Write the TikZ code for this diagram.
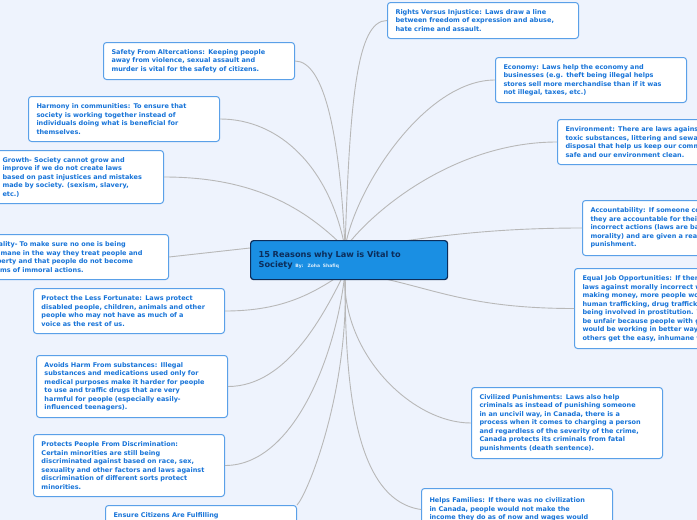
\documentclass[tikz,border=0pt]{standalone}
\usepackage{fontspec}
\setmainfont{DejaVu Sans}
\definecolor{bg}{HTML}{EEF3FD}
\definecolor{bd}{HTML}{5AA0E8}
\definecolor{tx}{HTML}{1673D8}
\definecolor{ln}{HTML}{B8B8B8}
\definecolor{cfill}{HTML}{1A8FE3}
\definecolor{cbd}{HTML}{0C2D5A}
\tikzset{
 bx/.style={draw=bd,line width=1pt,fill=white,rounded corners=3pt,anchor=north west,align=left,text=tx,font=\fontsize{6.5}{8.5}\selectfont\bfseries,inner xsep=8pt,inner ysep=3pt},
 con/.style={draw=ln,line width=0.9pt}
}
\newcommand\bxx[6]{\node[bx,minimum width=#4-#2,minimum height=#5-#3,text width=#4-#2-16] (#1) at (#2,#3) {#6};}
\begin{document}
\begin{tikzpicture}[x=1pt,y=-1pt]
\useasboundingbox (0,0) rectangle (697,520);
\clip (0,0) rectangle (697,520);
\fill[bg] (0,0) rectangle (697,520);
\coordinate (ht) at (345,248);
\coordinate (hb) at (345,272);
\bxx{rights}{387}{2}{578}{38}{Rights Versus Injustice: Laws draw a line\\between freedom of expression and abuse,\\hate crime and assault.}
\bxx{safety}{103}{42}{294}{79}{Safety From Altercations: Keeping people\\away from violence, sexual assault and\\murder is vital for the safety of citizens.}
\bxx{economy}{495}{57}{686}{102}{Economy: Laws help the economy and\\businesses (e.g. theft being illegal helps\\stores sell more merchandise than if it was\\not illegal, taxes, etc.)}
\bxx{harmony}{28}{96}{219}{141}{Harmony in communities: To ensure that\\society is working together instead of\\individuals doing what is beneficial for\\themselves.}
\bxx{env}{557}{119}{748}{164}{Environment: There are laws against\\toxic substances, littering and sewage\\disposal that help us keep our communities\\safe and our environment clean.}
\bxx{growth}{-6}{150}{163}{203}{Growth- Society cannot grow and\\improve if we do not create laws\\based on past injustices and mistakes\\made by society. (sexism, slavery,\\etc.)}
\bxx{acc}{582}{200}{773}{255}{Accountability: If someone commits a crime\\they are accountable for their\\incorrect actions (laws are based on\\morality) and are given a reasonable\\punishment.}
\bxx{moral}{-24}{234}{168}{279}{Morality- To make sure no one is being\\inhumane in the way they treat people and\\property and that people do not become\\victims of immoral actions.}
\bxx{equal}{574}{268}{765}{348}{Equal Job Opportunities: If there were no\\laws against morally incorrect ways of\\making money, more people would turn to\\human trafficking, drug trafficking and\\being involved in prostitution. This would\\be unfair because people with good morals\\would be working in better ways while\\others get the easy, inhumane way.}
\bxx{less}{33}{288}{224}{333}{Protect the Less Fortunate: Laws protect\\disabled people, children, animals and other\\people who may not have as much of a\\voice as the rest of us.}
\bxx{harm}{36}{355}{227}{417}{Avoids Harm From substances: Illegal\\substances and medications used only for\\medical purposes make it harder for people\\to use and traffic drugs that are very\\harmful for people (especially easily-\\influenced teenagers).}
\bxx{civil}{471}{387}{662}{458}{Civilized Punishments: Laws also help\\criminals as instead of punishing someone\\in an uncivil way, in Canada, there is a\\process when it comes to charging a person\\and regardless of the severity of the crime,\\Canada protects its criminals from fatal\\punishments (death sentence).}
\bxx{disc}{33}{434}{224}{496}{Protects People From Discrimination:\\Certain minorities are still being\\discriminated against based on race, sex,\\sexuality and other factors and laws against\\discrimination of different sorts protect\\minorities.}
\bxx{fam}{421}{488}{612}{530}{Helps Families: If there was no civilization\\in Canada, people would not make the\\income they do as of now and wages would}
\bxx{ensure}{105}{505}{296}{525}{Ensure Citizens Are Fulfilling}
% connectors
\draw[con] (safety.east) .. controls +(30,0) and +(-5,-110) .. (ht);
\draw[con] (harmony.east) .. controls +(60,0) and +(-15,-80) .. (ht);
\draw[con] (growth.east) .. controls +(90,0) and +(-40,-40) .. (ht);
\draw[con] (rights.west) .. controls +(-30,0) and +(5,-150) .. (ht);
\draw[con] (economy.west) .. controls +(-70,0) and +(10,-60) .. (ht);
\draw[con] (env.west) .. controls +(-100,0) and +(30,-40) .. (ht);
\draw[con] (acc.west) .. controls +(-120,0) and +(60,-5) .. (ht);
\draw[con] (moral.east) -- (ht -| 250,0);
\draw[con] (equal.west) .. controls +(-120,0) and +(80,10) .. (hb);
\draw[con] (less.east) .. controls +(60,0) and +(-30,20) .. (hb);
\draw[con] (harm.east) .. controls +(60,0) and +(-20,40) .. (hb);
\draw[con] (disc.east) .. controls +(70,0) and +(-8,80) .. (hb);
\draw[con] (civil.west) .. controls +(-60,0) and +(-5,80) .. (hb);
\draw[con] (fam.west) .. controls +(-70,-10) and +(0,100) .. (hb);
\draw[con] (ensure.north east) .. controls +(10,-10) and +(5,120) .. (hb);
% center
\node[draw=cbd,line width=1.2pt,fill=cfill,rounded corners=3pt,anchor=north west,minimum width=197,minimum height=39,text width=181,align=left,inner xsep=8pt,font=\fontsize{8.2}{10.5}\selectfont\bfseries,text=cbd] (c) at (250,240) {15 Reasons why Law is Vital to\\Society {\fontsize{4.5}{5}\selectfont\color{white!85!cfill} By: Zoha Shafiq}};
\end{tikzpicture}
\end{document}
